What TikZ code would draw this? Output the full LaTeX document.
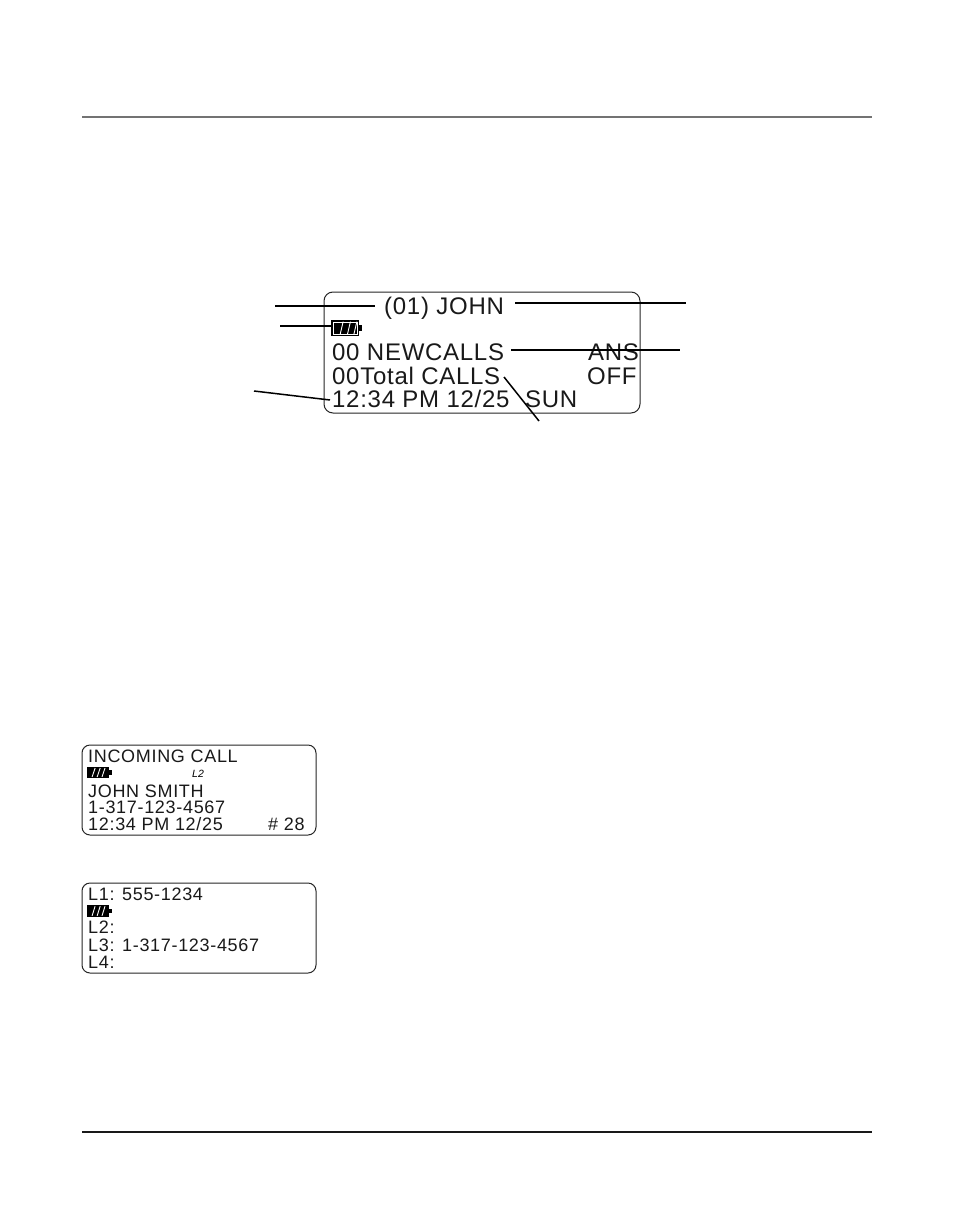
\documentclass[tikz,border=0pt]{standalone}
\usepackage{fontspec}
\setmainfont{Liberation Sans}
\newfontfamily\lcdbig[LetterSpace=3]{Liberation Sans}
\newfontfamily\lcdsmall[LetterSpace=3.8]{Liberation Sans}
\usepackage{tikz}
\usetikzlibrary{calc}

\tikzset{
    bigtext/.style={anchor=base west, inner sep=0pt, text=black!90, font=\lcdbig\fontsize{24}{24}\selectfont},
    smalltext/.style={anchor=base west, inner sep=0pt, text=black!90, font=\lcdsmall\fontsize{18}{18}\selectfont},
    screen/.style={draw=black!85, line width=1pt},
    leader/.style={draw=black, line width=1.5pt},
    pagerule/.style={line width=1.7pt}
}

% battery symbol: #1 = top left, #2 = width, #3 = height, #4 = ring colour, #5 = slash positions
\newcommand{\battery}[5]{
    \fill[black] (#1) rectangle ++(#2,#3);
    \fill[black] ($(#1)+(#2,#3*0.3)$) rectangle ++(2.5,#3*0.4);
    \draw[#4, line width=0.8pt] ($(#1)+(2,2)$) rectangle ($(#1)+(#2-2,#3-2)$);
    \foreach \i in {#5} {
        \draw[white, line width=0.9pt] ($(#1)+(#2*\i-1.5,#3*0.9)$) -- ++(3,-#3*0.8);
    }
}

\begin{document}
\begin{tikzpicture}[x=1pt, y=-1pt]
    \useasboundingbox[fill=white] (0,0) rectangle (954,1226);

    % Page rules
    \draw[pagerule, black!55] (82,117) -- (872,117);
    \draw[pagerule, black!90] (82,1132) -- (872,1132);

    % Main display
    \draw[screen, rounded corners=9pt] (324,292) rectangle (640,413);
    \battery{331,320}{28}{16}{white}{0.38,0.64,0.87}

    \node[bigtext] (name) at (384,314) {(01) JOHN};
    \node[bigtext] (newcalls) at (332,360) {00 NEWCALLS};
    \node[bigtext] (ans) at (588,360) {ANS};
    \node[bigtext] (total) at (332,384) {00Total CALLS};
    \node[bigtext] (off) at (587,384) {OFF};
    \node[bigtext] (clock) at (332,407) {12:34 PM 12/25};
    \node[bigtext] (day) at (525,407) {SUN};

    % Leader lines
    \coordinate (nameleft) at (275,306);
    \coordinate (nameend) at (375,306);
    \coordinate (battleft) at (280,326);
    \coordinate (battend) at (332,326);
    \coordinate (nameright) at (686,303);
    \coordinate (namestart) at (515,303);
    \coordinate (newstart) at (511,350);
    \coordinate (newright) at (680,350);
    \coordinate (clockleft) at (254,391);
    \coordinate (clockend) at (330,400);
    \coordinate (totalstart) at (504,377);
    \coordinate (totalend) at (539,421);

    \draw[leader] (nameleft) -- (nameend);
    \draw[leader, line width=2pt] (battleft) -- (battend);
    \draw[leader] (namestart) -- (nameright);
    \draw[leader, line width=2.2pt] (newstart) -- (newright);
    \draw[leader] (clockleft) -- (clockend);
    \draw[leader] (totalstart) -- (totalend);

    % Incoming call display
    \draw[screen, rounded corners=8pt] (82,745) rectangle (316,835);
    \battery{87,767}{22}{11}{black}{0.3,0.53,0.75}
    \node[smalltext] (incoming) at (88,762.5) {INCOMING CALL};
    \node[anchor=base west, inner sep=0pt, font=\itshape\fontsize{10.5}{10.5}\selectfont] (line) at (192,777) {L2};
    \node[smalltext] (caller) at (88,797.5) {JOHN SMITH};
    \node[smalltext] (number) at (88,813.5) {1-317-123-4567};
    \node[smalltext] (stamp) at (88,830.5) {12:34 PM 12/25};
    \node[smalltext] (count) at (268,830.5) {\# 28};

    % Line list display
    \draw[screen, rounded corners=8pt] (82,883) rectangle (316,973);
    \battery{87,905}{22}{12}{black}{0.3,0.53,0.75}
    \node[smalltext] (lone) at (88,900.5) {L1: 555-1234};
    \node[smalltext] (ltwo) at (88,933.5) {L2:};
    \node[smalltext] (lthree) at (88,951.5) {L3: 1-317-123-4567};
    \node[smalltext] (lfour) at (88,968.5) {L4:};

\end{tikzpicture}
\end{document}
